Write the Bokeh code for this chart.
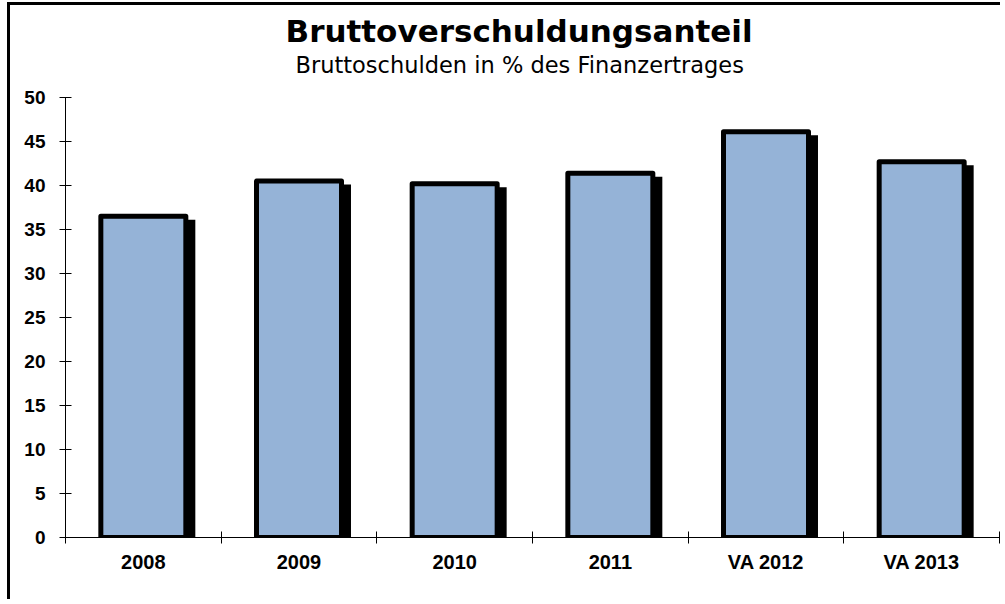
import numpy as np
from bokeh.plotting import figure
from bokeh.models import Range1d, FixedTicker, LinearAxis, Title
from bokeh.embed import file_html
from bokeh.resources import INLINE

# ---- data ----
categories = ["2008", "2009", "2010", "2011", "VA 2012", "VA 2013"]
values = [36.5, 40.5, 40.2, 41.4, 46.1, 42.7]
y_ticks = [0, 5, 10, 15, 20, 25, 30, 35, 40, 45, 50]
title_text = "Bruttoverschuldungsanteil"
subtitle_text = "Bruttoschulden in % des Finanzertrages"

# ---- layout constants ----
BAR_FILL = "#95B3D7"
BAR_W = 0.546
SHADOW_DX = 0.045
SHADOW_DY = 0.40
W, H = 993, 597

n = len(categories)
xs = np.arange(n, dtype=float)
vals = np.array(values, dtype=float)

p = figure(
    width=W, height=H,
    x_range=Range1d(-0.5, n - 0.5),
    y_range=Range1d(0, 50),
    output_backend="svg", toolbar_location=None,
    x_axis_location=None, y_axis_location=None,
    min_border_left=55, min_border_right=W - 989,
    min_border_top=92, min_border_bottom=H - 532,
)
p.outline_line_color = None
p.xgrid.visible = False
p.ygrid.visible = False
p.background_fill_color = "white"
p.border_fill_color = "white"
p.styles = {
    "border-left": "3px solid black",
    "border-top": "3px solid black",
    "margin-top": "2px",
    "margin-left": "7px",
    "width": f"{W}px",
    "height": f"{H}px",
    "overflow": "hidden",
}

# shadows
p.vbar(x=xs + SHADOW_DX, width=BAR_W + 0.032, top=vals - SHADOW_DY, bottom=-1,
       fill_color="black", line_color=None)
# bars
p.vbar(x=xs, width=BAR_W, top=vals, bottom=0,
       fill_color=BAR_FILL, line_color="black", line_width=5, line_join="round")

# x axis
xaxis = LinearAxis()
xaxis.ticker = FixedTicker(ticks=list(xs), minor_ticks=list(np.arange(n + 1) - 0.5))
xaxis.major_label_overrides = {int(i): c for i, c in enumerate(categories)}
xaxis.major_tick_in = 0
xaxis.major_tick_out = 0
xaxis.minor_tick_in = 6
xaxis.minor_tick_out = 6
xaxis.minor_tick_line_color = "black"
xaxis.axis_line_color = "black"
xaxis.axis_line_width = 1
xaxis.major_label_text_font = "Liberation Sans"
xaxis.major_label_text_font_style = "bold"
xaxis.major_label_text_font_size = "20px"
xaxis.major_label_text_color = "black"
xaxis.major_label_standoff = 7
p.add_layout(xaxis, "below")

# y axis
yaxis = LinearAxis()
yaxis.ticker = FixedTicker(ticks=y_ticks)
yaxis.major_tick_in = 6
yaxis.major_tick_out = 6
yaxis.minor_tick_line_color = None
yaxis.major_tick_line_color = "black"
yaxis.axis_line_color = "black"
yaxis.major_label_text_font = "Liberation Sans"
yaxis.major_label_text_font_style = "bold"
yaxis.major_label_text_font_size = "19px"
yaxis.major_label_text_color = "black"
yaxis.major_label_standoff = 14
p.add_layout(yaxis, "left")

# titles: spacer (closest to plot), subtitle, main title
p.add_layout(Title(text=" ", text_font="DejaVu Sans", text_font_size="10px",
                   standoff=7, text_color="white"), "above")
p.add_layout(Title(text=subtitle_text, text_font="DejaVu Sans", text_font_style="normal",
                   text_font_size="22.5px", align="left", offset=230, standoff=0,
                   text_color="black"), "above")
p.add_layout(Title(text=title_text, text_font="DejaVu Sans", text_font_style="bold",
                   text_font_size="31px", align="left", offset=220, standoff=2,
                   text_color="black"), "above")

html = file_html(p, INLINE)
open("out.html", "w").write(html)
